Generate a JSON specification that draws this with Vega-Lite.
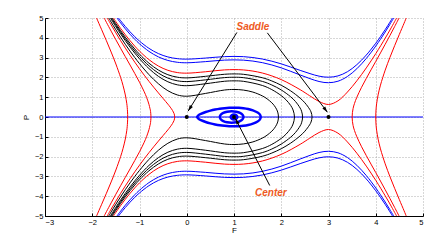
{
"$schema": "https://vega.github.io/schema/vega-lite/v6.json",
"width": 378, "height": 198,
"autosize": "none",
"padding": {"left": 45, "top": 18, "right": 23, "bottom": 28},
"background": "white",
"config": {
 "view": {"stroke": null},
 "axis": {"domainColor": "#000", "domainWidth": 1, "tickColor": "#000", "tickSize": -3, "tickWidth": 1,
  "labelFont": "Liberation Sans", "labelFontSize": 7.5, "labelColor": "#000", "labelOverlap": false,
  "titleFont": "Liberation Sans", "titleFontSize": 8, "titleFontWeight": "normal", "titleColor": "#000",
  "gridColor": "#999999", "gridDash": [1, 2], "gridWidth": 0.8, "gridOpacity": 1}
},
"datasets": {
"curves": [
{"c":"B1u","k":"b","i":1,"F":-1.445,"P":5},{"c":"B1u","k":"b","i":2,"F":-1.4,"P":4.864},{"c":"B1u","k":"b","i":3,"F":-1.3,"P":4.571},{"c":"B1u","k":"b","i":4,"F":-1.2,"P":4.301},{"c":"B1u","k":"b","i":5,"F":-1.1,"P":4.056},{"c":"B1u","k":"b","i":6,"F":-1.0,"P":3.835},{"c":"B1u","k":"b","i":7,"F":-0.8,"P":3.468},{"c":"B1u","k":"b","i":8,"F":-0.6,"P":3.203},{"c":"B1u","k":"b","i":9,"F":-0.4,"P":3.034},{"c":"B1u","k":"b","i":10,"F":-0.2,"P":2.947},{"c":"B1u","k":"b","i":11,"F":0,"P":2.922},{"c":"B1u","k":"b","i":12,"F":0.4,"P":2.977},{"c":"B1u","k":"b","i":13,"F":0.8,"P":3.049},{"c":"B1u","k":"b","i":14,"F":1.2,"P":3.048},{"c":"B1u","k":"b","i":15,"F":1.6,"P":2.928},{"c":"B1u","k":"b","i":16,"F":2.0,"P":2.684},{"c":"B1u","k":"b","i":17,"F":2.4,"P":2.355},{"c":"B1u","k":"b","i":18,"F":2.8,"P":2.063},{"c":"B1u","k":"b","i":19,"F":3.0,"P":2.01},{"c":"B1u","k":"b","i":20,"F":3.2,"P":2.075},{"c":"B1u","k":"b","i":21,"F":3.4,"P":2.286},{"c":"B1u","k":"b","i":22,"F":3.6,"P":2.643},{"c":"B1u","k":"b","i":23,"F":3.8,"P":3.129},{"c":"B1u","k":"b","i":24,"F":4.0,"P":3.725},{"c":"B1u","k":"b","i":25,"F":4.1,"P":4.058},{"c":"B1u","k":"b","i":26,"F":4.2,"P":4.413},{"c":"B1u","k":"b","i":27,"F":4.3,"P":4.789},{"c":"B1u","k":"b","i":28,"F":4.354,"P":5},
{"c":"B1l","k":"b","i":1,"F":-1.445,"P":-5},{"c":"B1l","k":"b","i":2,"F":-1.4,"P":-4.864},{"c":"B1l","k":"b","i":3,"F":-1.3,"P":-4.571},{"c":"B1l","k":"b","i":4,"F":-1.2,"P":-4.301},{"c":"B1l","k":"b","i":5,"F":-1.1,"P":-4.056},{"c":"B1l","k":"b","i":6,"F":-1.0,"P":-3.835},{"c":"B1l","k":"b","i":7,"F":-0.8,"P":-3.468},{"c":"B1l","k":"b","i":8,"F":-0.6,"P":-3.203},{"c":"B1l","k":"b","i":9,"F":-0.4,"P":-3.034},{"c":"B1l","k":"b","i":10,"F":-0.2,"P":-2.947},{"c":"B1l","k":"b","i":11,"F":0,"P":-2.922},{"c":"B1l","k":"b","i":12,"F":0.4,"P":-2.977},{"c":"B1l","k":"b","i":13,"F":0.8,"P":-3.049},{"c":"B1l","k":"b","i":14,"F":1.2,"P":-3.048},{"c":"B1l","k":"b","i":15,"F":1.6,"P":-2.928},{"c":"B1l","k":"b","i":16,"F":2.0,"P":-2.684},{"c":"B1l","k":"b","i":17,"F":2.4,"P":-2.355},{"c":"B1l","k":"b","i":18,"F":2.8,"P":-2.063},{"c":"B1l","k":"b","i":19,"F":3.0,"P":-2.01},{"c":"B1l","k":"b","i":20,"F":3.2,"P":-2.075},{"c":"B1l","k":"b","i":21,"F":3.4,"P":-2.286},{"c":"B1l","k":"b","i":22,"F":3.6,"P":-2.643},{"c":"B1l","k":"b","i":23,"F":3.8,"P":-3.129},{"c":"B1l","k":"b","i":24,"F":4.0,"P":-3.725},{"c":"B1l","k":"b","i":25,"F":4.1,"P":-4.058},{"c":"B1l","k":"b","i":26,"F":4.2,"P":-4.413},{"c":"B1l","k":"b","i":27,"F":4.3,"P":-4.789},{"c":"B1l","k":"b","i":28,"F":4.354,"P":-5},
{"c":"B2u","k":"b","i":1,"F":-1.476,"P":5},{"c":"B2u","k":"b","i":2,"F":-1.4,"P":4.756},{"c":"B2u","k":"b","i":3,"F":-1.3,"P":4.456},{"c":"B2u","k":"b","i":4,"F":-1.2,"P":4.179},{"c":"B2u","k":"b","i":5,"F":-1.1,"P":3.926},{"c":"B2u","k":"b","i":6,"F":-1.0,"P":3.697},{"c":"B2u","k":"b","i":7,"F":-0.8,"P":3.315},{"c":"B2u","k":"b","i":8,"F":-0.6,"P":3.036},{"c":"B2u","k":"b","i":9,"F":-0.4,"P":2.857},{"c":"B2u","k":"b","i":10,"F":-0.2,"P":2.764},{"c":"B2u","k":"b","i":11,"F":0,"P":2.739},{"c":"B2u","k":"b","i":12,"F":0.4,"P":2.797},{"c":"B2u","k":"b","i":13,"F":0.8,"P":2.874},{"c":"B2u","k":"b","i":14,"F":1.2,"P":2.872},{"c":"B2u","k":"b","i":15,"F":1.6,"P":2.745},{"c":"B2u","k":"b","i":16,"F":2.0,"P":2.483},{"c":"B2u","k":"b","i":17,"F":2.4,"P":2.122},{"c":"B2u","k":"b","i":18,"F":2.8,"P":1.793},{"c":"B2u","k":"b","i":19,"F":3.0,"P":1.732},{"c":"B2u","k":"b","i":20,"F":3.2,"P":1.807},{"c":"B2u","k":"b","i":21,"F":3.4,"P":2.046},{"c":"B2u","k":"b","i":22,"F":3.6,"P":2.438},{"c":"B2u","k":"b","i":23,"F":3.8,"P":2.958},{"c":"B2u","k":"b","i":24,"F":4.0,"P":3.582},{"c":"B2u","k":"b","i":25,"F":4.1,"P":3.928},{"c":"B2u","k":"b","i":26,"F":4.2,"P":4.294},{"c":"B2u","k":"b","i":27,"F":4.3,"P":4.679},{"c":"B2u","k":"b","i":28,"F":4.38,"P":5},
{"c":"B2l","k":"b","i":1,"F":-1.476,"P":-5},{"c":"B2l","k":"b","i":2,"F":-1.4,"P":-4.756},{"c":"B2l","k":"b","i":3,"F":-1.3,"P":-4.456},{"c":"B2l","k":"b","i":4,"F":-1.2,"P":-4.179},{"c":"B2l","k":"b","i":5,"F":-1.1,"P":-3.926},{"c":"B2l","k":"b","i":6,"F":-1.0,"P":-3.697},{"c":"B2l","k":"b","i":7,"F":-0.8,"P":-3.315},{"c":"B2l","k":"b","i":8,"F":-0.6,"P":-3.036},{"c":"B2l","k":"b","i":9,"F":-0.4,"P":-2.857},{"c":"B2l","k":"b","i":10,"F":-0.2,"P":-2.764},{"c":"B2l","k":"b","i":11,"F":0,"P":-2.739},{"c":"B2l","k":"b","i":12,"F":0.4,"P":-2.797},{"c":"B2l","k":"b","i":13,"F":0.8,"P":-2.874},{"c":"B2l","k":"b","i":14,"F":1.2,"P":-2.872},{"c":"B2l","k":"b","i":15,"F":1.6,"P":-2.745},{"c":"B2l","k":"b","i":16,"F":2.0,"P":-2.483},{"c":"B2l","k":"b","i":17,"F":2.4,"P":-2.122},{"c":"B2l","k":"b","i":18,"F":2.8,"P":-1.793},{"c":"B2l","k":"b","i":19,"F":3.0,"P":-1.732},{"c":"B2l","k":"b","i":20,"F":3.2,"P":-1.807},{"c":"B2l","k":"b","i":21,"F":3.4,"P":-2.046},{"c":"B2l","k":"b","i":22,"F":3.6,"P":-2.438},{"c":"B2l","k":"b","i":23,"F":3.8,"P":-2.958},{"c":"B2l","k":"b","i":24,"F":4.0,"P":-3.582},{"c":"B2l","k":"b","i":25,"F":4.1,"P":-3.928},{"c":"B2l","k":"b","i":26,"F":4.2,"P":-4.294},{"c":"B2l","k":"b","i":27,"F":4.3,"P":-4.679},{"c":"B2l","k":"b","i":28,"F":4.38,"P":-5},
{"c":"R0u","k":"r","i":1,"F":-1.552,"P":5},{"c":"R0u","k":"r","i":2,"F":-1.5,"P":4.815},{"c":"R0u","k":"r","i":3,"F":-1.4,"P":4.474},{"c":"R0u","k":"r","i":4,"F":-1.3,"P":4.154},{"c":"R0u","k":"r","i":5,"F":-1.2,"P":3.855},{"c":"R0u","k":"r","i":6,"F":-1.1,"P":3.579},{"c":"R0u","k":"r","i":7,"F":-1.0,"P":3.327},{"c":"R0u","k":"r","i":8,"F":-0.8,"P":2.897},{"c":"R0u","k":"r","i":9,"F":-0.6,"P":2.573},{"c":"R0u","k":"r","i":10,"F":-0.4,"P":2.359},{"c":"R0u","k":"r","i":11,"F":-0.2,"P":2.245},{"c":"R0u","k":"r","i":12,"F":0,"P":2.214},{"c":"R0u","k":"r","i":13,"F":0.4,"P":2.285},{"c":"R0u","k":"r","i":14,"F":0.8,"P":2.379},{"c":"R0u","k":"r","i":15,"F":1.2,"P":2.377},{"c":"R0u","k":"r","i":16,"F":1.6,"P":2.221},{"c":"R0u","k":"r","i":17,"F":2.0,"P":1.888},{"c":"R0u","k":"r","i":18,"F":2.4,"P":1.38},{"c":"R0u","k":"r","i":19,"F":2.6,"P":1.076},{"c":"R0u","k":"r","i":20,"F":2.8,"P":0.784},{"c":"R0u","k":"r","i":21,"F":3.0,"P":0.632},{"c":"R0u","k":"r","i":22,"F":3.2,"P":0.816},{"c":"R0u","k":"r","i":23,"F":3.4,"P":1.259},{"c":"R0u","k":"r","i":24,"F":3.6,"P":1.829},{"c":"R0u","k":"r","i":25,"F":3.8,"P":2.48},{"c":"R0u","k":"r","i":26,"F":4.0,"P":3.199},{"c":"R0u","k":"r","i":27,"F":4.2,"P":3.979},{"c":"R0u","k":"r","i":28,"F":4.3,"P":4.392},{"c":"R0u","k":"r","i":29,"F":4.4,"P":4.819},{"c":"R0u","k":"r","i":30,"F":4.441,"P":5},
{"c":"R0l","k":"r","i":1,"F":-1.552,"P":-5},{"c":"R0l","k":"r","i":2,"F":-1.5,"P":-4.815},{"c":"R0l","k":"r","i":3,"F":-1.4,"P":-4.474},{"c":"R0l","k":"r","i":4,"F":-1.3,"P":-4.154},{"c":"R0l","k":"r","i":5,"F":-1.2,"P":-3.855},{"c":"R0l","k":"r","i":6,"F":-1.1,"P":-3.579},{"c":"R0l","k":"r","i":7,"F":-1.0,"P":-3.327},{"c":"R0l","k":"r","i":8,"F":-0.8,"P":-2.897},{"c":"R0l","k":"r","i":9,"F":-0.6,"P":-2.573},{"c":"R0l","k":"r","i":10,"F":-0.4,"P":-2.359},{"c":"R0l","k":"r","i":11,"F":-0.2,"P":-2.245},{"c":"R0l","k":"r","i":12,"F":0,"P":-2.214},{"c":"R0l","k":"r","i":13,"F":0.4,"P":-2.285},{"c":"R0l","k":"r","i":14,"F":0.8,"P":-2.379},{"c":"R0l","k":"r","i":15,"F":1.2,"P":-2.377},{"c":"R0l","k":"r","i":16,"F":1.6,"P":-2.221},{"c":"R0l","k":"r","i":17,"F":2.0,"P":-1.888},{"c":"R0l","k":"r","i":18,"F":2.4,"P":-1.38},{"c":"R0l","k":"r","i":19,"F":2.6,"P":-1.076},{"c":"R0l","k":"r","i":20,"F":2.8,"P":-0.784},{"c":"R0l","k":"r","i":21,"F":3.0,"P":-0.632},{"c":"R0l","k":"r","i":22,"F":3.2,"P":-0.816},{"c":"R0l","k":"r","i":23,"F":3.4,"P":-1.259},{"c":"R0l","k":"r","i":24,"F":3.6,"P":-1.829},{"c":"R0l","k":"r","i":25,"F":3.8,"P":-2.48},{"c":"R0l","k":"r","i":26,"F":4.0,"P":-3.199},{"c":"R0l","k":"r","i":27,"F":4.2,"P":-3.979},{"c":"R0l","k":"r","i":28,"F":4.3,"P":-4.392},{"c":"R0l","k":"r","i":29,"F":4.4,"P":-4.819},{"c":"R0l","k":"r","i":30,"F":4.441,"P":-5},
{"c":"K1","k":"k","i":1,"F":-1.651,"P":5},{"c":"K1","k":"k","i":2,"F":-1.6,"P":4.794},{"c":"K1","k":"k","i":3,"F":-1.5,"P":4.403},{"c":"K1","k":"k","i":4,"F":-1.4,"P":4.027},{"c":"K1","k":"k","i":5,"F":-1.3,"P":3.668},{"c":"K1","k":"k","i":6,"F":-1.2,"P":3.326},{"c":"K1","k":"k","i":7,"F":-1.1,"P":3.002},{"c":"K1","k":"k","i":8,"F":-1.0,"P":2.696},{"c":"K1","k":"k","i":9,"F":-0.8,"P":2.142},{"c":"K1","k":"k","i":10,"F":-0.6,"P":1.679},{"c":"K1","k":"k","i":11,"F":-0.4,"P":1.328},{"c":"K1","k":"k","i":12,"F":-0.2,"P":1.114},{"c":"K1","k":"k","i":13,"F":0,"P":1.049},{"c":"K1","k":"k","i":14,"F":0.4,"P":1.192},{"c":"K1","k":"k","i":15,"F":0.8,"P":1.363},{"c":"K1","k":"k","i":16,"F":1.0,"P":1.391},{"c":"K1","k":"k","i":17,"F":1.2,"P":1.359},{"c":"K1","k":"k","i":18,"F":1.4,"P":1.258},{"c":"K1","k":"k","i":19,"F":1.6,"P":1.065},{"c":"K1","k":"k","i":20,"F":1.7,"P":0.919},{"c":"K1","k":"k","i":21,"F":1.8,"P":0.718},{"c":"K1","k":"k","i":22,"F":1.85,"P":0.583},{"c":"K1","k":"k","i":23,"F":1.9,"P":0.395},{"c":"K1","k":"k","i":24,"F":1.93,"P":0.205},{"c":"K1","k":"k","i":25,"F":1.94,"P":0},{"c":"K1","k":"k","i":26,"F":1.93,"P":-0.205},{"c":"K1","k":"k","i":27,"F":1.9,"P":-0.395},{"c":"K1","k":"k","i":28,"F":1.85,"P":-0.583},{"c":"K1","k":"k","i":29,"F":1.8,"P":-0.718},{"c":"K1","k":"k","i":30,"F":1.7,"P":-0.919},{"c":"K1","k":"k","i":31,"F":1.6,"P":-1.065},{"c":"K1","k":"k","i":32,"F":1.4,"P":-1.258},{"c":"K1","k":"k","i":33,"F":1.2,"P":-1.359},{"c":"K1","k":"k","i":34,"F":1.0,"P":-1.391},{"c":"K1","k":"k","i":35,"F":0.8,"P":-1.363},{"c":"K1","k":"k","i":36,"F":0.4,"P":-1.192},{"c":"K1","k":"k","i":37,"F":0,"P":-1.049},{"c":"K1","k":"k","i":38,"F":-0.2,"P":-1.114},{"c":"K1","k":"k","i":39,"F":-0.4,"P":-1.328},{"c":"K1","k":"k","i":40,"F":-0.6,"P":-1.679},{"c":"K1","k":"k","i":41,"F":-0.8,"P":-2.142},{"c":"K1","k":"k","i":42,"F":-1.0,"P":-2.696},{"c":"K1","k":"k","i":43,"F":-1.1,"P":-3.002},{"c":"K1","k":"k","i":44,"F":-1.2,"P":-3.326},{"c":"K1","k":"k","i":45,"F":-1.3,"P":-3.668},{"c":"K1","k":"k","i":46,"F":-1.4,"P":-4.027},{"c":"K1","k":"k","i":47,"F":-1.5,"P":-4.403},{"c":"K1","k":"k","i":48,"F":-1.6,"P":-4.794},{"c":"K1","k":"k","i":49,"F":-1.651,"P":-5},
{"c":"K2","k":"k","i":1,"F":-1.616,"P":5},{"c":"K2","k":"k","i":2,"F":-1.5,"P":4.559},{"c":"K2","k":"k","i":3,"F":-1.4,"P":4.197},{"c":"K2","k":"k","i":4,"F":-1.3,"P":3.854},{"c":"K2","k":"k","i":5,"F":-1.2,"P":3.53},{"c":"K2","k":"k","i":6,"F":-1.1,"P":3.227},{"c":"K2","k":"k","i":7,"F":-1.0,"P":2.944},{"c":"K2","k":"k","i":8,"F":-0.8,"P":2.447},{"c":"K2","k":"k","i":9,"F":-0.6,"P":2.054},{"c":"K2","k":"k","i":10,"F":-0.4,"P":1.779},{"c":"K2","k":"k","i":11,"F":-0.2,"P":1.625},{"c":"K2","k":"k","i":12,"F":0,"P":1.581},{"c":"K2","k":"k","i":13,"F":0.4,"P":1.68},{"c":"K2","k":"k","i":14,"F":0.8,"P":1.805},{"c":"K2","k":"k","i":15,"F":1.0,"P":1.826},{"c":"K2","k":"k","i":16,"F":1.2,"P":1.802},{"c":"K2","k":"k","i":17,"F":1.6,"P":1.592},{"c":"K2","k":"k","i":18,"F":1.8,"P":1.384},{"c":"K2","k":"k","i":19,"F":2.0,"P":1.08},{"c":"K2","k":"k","i":20,"F":2.1,"P":0.871},{"c":"K2","k":"k","i":21,"F":2.2,"P":0.581},{"c":"K2","k":"k","i":22,"F":2.25,"P":0.355},{"c":"K2","k":"k","i":23,"F":2.28,"P":0},{"c":"K2","k":"k","i":24,"F":2.25,"P":-0.355},{"c":"K2","k":"k","i":25,"F":2.2,"P":-0.581},{"c":"K2","k":"k","i":26,"F":2.1,"P":-0.871},{"c":"K2","k":"k","i":27,"F":2.0,"P":-1.08},{"c":"K2","k":"k","i":28,"F":1.8,"P":-1.384},{"c":"K2","k":"k","i":29,"F":1.6,"P":-1.592},{"c":"K2","k":"k","i":30,"F":1.2,"P":-1.802},{"c":"K2","k":"k","i":31,"F":1.0,"P":-1.826},{"c":"K2","k":"k","i":32,"F":0.8,"P":-1.805},{"c":"K2","k":"k","i":33,"F":0.4,"P":-1.68},{"c":"K2","k":"k","i":34,"F":0,"P":-1.581},{"c":"K2","k":"k","i":35,"F":-0.2,"P":-1.625},{"c":"K2","k":"k","i":36,"F":-0.4,"P":-1.779},{"c":"K2","k":"k","i":37,"F":-0.6,"P":-2.054},{"c":"K2","k":"k","i":38,"F":-0.8,"P":-2.447},{"c":"K2","k":"k","i":39,"F":-1.0,"P":-2.944},{"c":"K2","k":"k","i":40,"F":-1.1,"P":-3.227},{"c":"K2","k":"k","i":41,"F":-1.2,"P":-3.53},{"c":"K2","k":"k","i":42,"F":-1.3,"P":-3.854},{"c":"K2","k":"k","i":43,"F":-1.4,"P":-4.197},{"c":"K2","k":"k","i":44,"F":-1.5,"P":-4.559},{"c":"K2","k":"k","i":45,"F":-1.616,"P":-5},
{"c":"K3","k":"k","i":1,"F":-1.598,"P":5},{"c":"K3","k":"k","i":2,"F":-1.5,"P":4.635},{"c":"K3","k":"k","i":3,"F":-1.4,"P":4.28},{"c":"K3","k":"k","i":4,"F":-1.3,"P":3.944},{"c":"K3","k":"k","i":5,"F":-1.2,"P":3.628},{"c":"K3","k":"k","i":6,"F":-1.1,"P":3.333},{"c":"K3","k":"k","i":7,"F":-1.0,"P":3.06},{"c":"K3","k":"k","i":8,"F":-0.8,"P":2.587},{"c":"K3","k":"k","i":9,"F":-0.6,"P":2.218},{"c":"K3","k":"k","i":10,"F":-0.4,"P":1.966},{"c":"K3","k":"k","i":11,"F":-0.2,"P":1.828},{"c":"K3","k":"k","i":12,"F":0,"P":1.789},{"c":"K3","k":"k","i":13,"F":0.4,"P":1.877},{"c":"K3","k":"k","i":14,"F":0.8,"P":1.989},{"c":"K3","k":"k","i":15,"F":1.0,"P":2.008},{"c":"K3","k":"k","i":16,"F":1.2,"P":1.987},{"c":"K3","k":"k","i":17,"F":1.6,"P":1.798},{"c":"K3","k":"k","i":18,"F":1.8,"P":1.617},{"c":"K3","k":"k","i":19,"F":2.0,"P":1.366},{"c":"K3","k":"k","i":20,"F":2.2,"P":1.019},{"c":"K3","k":"k","i":21,"F":2.3,"P":0.785},{"c":"K3","k":"k","i":22,"F":2.4,"P":0.452},{"c":"K3","k":"k","i":23,"F":2.43,"P":0.293},{"c":"K3","k":"k","i":24,"F":2.452,"P":0},{"c":"K3","k":"k","i":25,"F":2.43,"P":-0.293},{"c":"K3","k":"k","i":26,"F":2.4,"P":-0.452},{"c":"K3","k":"k","i":27,"F":2.3,"P":-0.785},{"c":"K3","k":"k","i":28,"F":2.2,"P":-1.019},{"c":"K3","k":"k","i":29,"F":2.0,"P":-1.366},{"c":"K3","k":"k","i":30,"F":1.8,"P":-1.617},{"c":"K3","k":"k","i":31,"F":1.6,"P":-1.798},{"c":"K3","k":"k","i":32,"F":1.2,"P":-1.987},{"c":"K3","k":"k","i":33,"F":1.0,"P":-2.008},{"c":"K3","k":"k","i":34,"F":0.8,"P":-1.989},{"c":"K3","k":"k","i":35,"F":0.4,"P":-1.877},{"c":"K3","k":"k","i":36,"F":0,"P":-1.789},{"c":"K3","k":"k","i":37,"F":-0.2,"P":-1.828},{"c":"K3","k":"k","i":38,"F":-0.4,"P":-1.966},{"c":"K3","k":"k","i":39,"F":-0.6,"P":-2.218},{"c":"K3","k":"k","i":40,"F":-0.8,"P":-2.587},{"c":"K3","k":"k","i":41,"F":-1.0,"P":-3.06},{"c":"K3","k":"k","i":42,"F":-1.1,"P":-3.333},{"c":"K3","k":"k","i":43,"F":-1.2,"P":-3.628},{"c":"K3","k":"k","i":44,"F":-1.3,"P":-3.944},{"c":"K3","k":"k","i":45,"F":-1.4,"P":-4.28},{"c":"K3","k":"k","i":46,"F":-1.5,"P":-4.635},{"c":"K3","k":"k","i":47,"F":-1.598,"P":-5},
{"c":"K4","k":"k","i":1,"F":-1.579,"P":5},{"c":"K4","k":"k","i":2,"F":-1.5,"P":4.71},{"c":"K4","k":"k","i":3,"F":-1.4,"P":4.361},{"c":"K4","k":"k","i":4,"F":-1.3,"P":4.032},{"c":"K4","k":"k","i":5,"F":-1.2,"P":3.723},{"c":"K4","k":"k","i":6,"F":-1.1,"P":3.437},{"c":"K4","k":"k","i":7,"F":-1.0,"P":3.173},{"c":"K4","k":"k","i":8,"F":-0.8,"P":2.718},{"c":"K4","k":"k","i":9,"F":-0.6,"P":2.371},{"c":"K4","k":"k","i":10,"F":-0.4,"P":2.136},{"c":"K4","k":"k","i":11,"F":-0.2,"P":2.01},{"c":"K4","k":"k","i":12,"F":0,"P":1.975},{"c":"K4","k":"k","i":13,"F":0.4,"P":2.055},{"c":"K4","k":"k","i":14,"F":0.8,"P":2.158},{"c":"K4","k":"k","i":15,"F":1.0,"P":2.176},{"c":"K4","k":"k","i":16,"F":1.2,"P":2.156},{"c":"K4","k":"k","i":17,"F":1.6,"P":1.983},{"c":"K4","k":"k","i":18,"F":1.8,"P":1.821},{"c":"K4","k":"k","i":19,"F":2.0,"P":1.602},{"c":"K4","k":"k","i":20,"F":2.2,"P":1.318},{"c":"K4","k":"k","i":21,"F":2.4,"P":0.951},{"c":"K4","k":"k","i":22,"F":2.5,"P":0.717},{"c":"K4","k":"k","i":23,"F":2.6,"P":0.397},{"c":"K4","k":"k","i":24,"F":2.63,"P":0.257},{"c":"K4","k":"k","i":25,"F":2.652,"P":0},{"c":"K4","k":"k","i":26,"F":2.63,"P":-0.257},{"c":"K4","k":"k","i":27,"F":2.6,"P":-0.397},{"c":"K4","k":"k","i":28,"F":2.5,"P":-0.717},{"c":"K4","k":"k","i":29,"F":2.4,"P":-0.951},{"c":"K4","k":"k","i":30,"F":2.2,"P":-1.318},{"c":"K4","k":"k","i":31,"F":2.0,"P":-1.602},{"c":"K4","k":"k","i":32,"F":1.8,"P":-1.821},{"c":"K4","k":"k","i":33,"F":1.6,"P":-1.983},{"c":"K4","k":"k","i":34,"F":1.2,"P":-2.156},{"c":"K4","k":"k","i":35,"F":1.0,"P":-2.176},{"c":"K4","k":"k","i":36,"F":0.8,"P":-2.158},{"c":"K4","k":"k","i":37,"F":0.4,"P":-2.055},{"c":"K4","k":"k","i":38,"F":0,"P":-1.975},{"c":"K4","k":"k","i":39,"F":-0.2,"P":-2.01},{"c":"K4","k":"k","i":40,"F":-0.4,"P":-2.136},{"c":"K4","k":"k","i":41,"F":-0.6,"P":-2.371},{"c":"K4","k":"k","i":42,"F":-0.8,"P":-2.718},{"c":"K4","k":"k","i":43,"F":-1.0,"P":-3.173},{"c":"K4","k":"k","i":44,"F":-1.1,"P":-3.437},{"c":"K4","k":"k","i":45,"F":-1.2,"P":-3.723},{"c":"K4","k":"k","i":46,"F":-1.3,"P":-4.032},{"c":"K4","k":"k","i":47,"F":-1.4,"P":-4.361},{"c":"K4","k":"k","i":48,"F":-1.5,"P":-4.71},{"c":"K4","k":"k","i":49,"F":-1.579,"P":-5},
{"c":"RL1","k":"r","i":1,"F":-1.909,"P":5},{"c":"RL1","k":"r","i":2,"F":-1.9,"P":4.951},{"c":"RL1","k":"r","i":3,"F":-1.8,"P":4.405},{"c":"RL1","k":"r","i":4,"F":-1.7,"P":3.851},{"c":"RL1","k":"r","i":5,"F":-1.6,"P":3.28},{"c":"RL1","k":"r","i":6,"F":-1.5,"P":2.676},{"c":"RL1","k":"r","i":7,"F":-1.4,"P":2.0},{"c":"RL1","k":"r","i":8,"F":-1.35,"P":1.603},{"c":"RL1","k":"r","i":9,"F":-1.3,"P":1.112},{"c":"RL1","k":"r","i":10,"F":-1.27,"P":0.693},{"c":"RL1","k":"r","i":11,"F":-1.26,"P":0.489},{"c":"RL1","k":"r","i":12,"F":-1.25,"P":0},{"c":"RL1","k":"r","i":13,"F":-1.26,"P":-0.489},{"c":"RL1","k":"r","i":14,"F":-1.27,"P":-0.693},{"c":"RL1","k":"r","i":15,"F":-1.3,"P":-1.112},{"c":"RL1","k":"r","i":16,"F":-1.35,"P":-1.603},{"c":"RL1","k":"r","i":17,"F":-1.4,"P":-2.0},{"c":"RL1","k":"r","i":18,"F":-1.5,"P":-2.676},{"c":"RL1","k":"r","i":19,"F":-1.6,"P":-3.28},{"c":"RL1","k":"r","i":20,"F":-1.7,"P":-3.851},{"c":"RL1","k":"r","i":21,"F":-1.8,"P":-4.405},{"c":"RL1","k":"r","i":22,"F":-1.9,"P":-4.951},{"c":"RL1","k":"r","i":23,"F":-1.909,"P":-5},
{"c":"RL2","k":"r","i":1,"F":-1.748,"P":5},{"c":"RL2","k":"r","i":2,"F":-1.7,"P":4.782},{"c":"RL2","k":"r","i":3,"F":-1.6,"P":4.336},{"c":"RL2","k":"r","i":4,"F":-1.5,"P":3.899},{"c":"RL2","k":"r","i":5,"F":-1.4,"P":3.47},{"c":"RL2","k":"r","i":6,"F":-1.3,"P":3.046},{"c":"RL2","k":"r","i":7,"F":-1.2,"P":2.624},{"c":"RL2","k":"r","i":8,"F":-1.1,"P":2.198},{"c":"RL2","k":"r","i":9,"F":-1.0,"P":1.757},{"c":"RL2","k":"r","i":10,"F":-0.9,"P":1.274},{"c":"RL2","k":"r","i":11,"F":-0.85,"P":0.993},{"c":"RL2","k":"r","i":12,"F":-0.8,"P":0.64},{"c":"RL2","k":"r","i":13,"F":-0.78,"P":0.443},{"c":"RL2","k":"r","i":14,"F":-0.77,"P":0.347},{"c":"RL2","k":"r","i":15,"F":-0.758,"P":0},{"c":"RL2","k":"r","i":16,"F":-0.77,"P":-0.347},{"c":"RL2","k":"r","i":17,"F":-0.78,"P":-0.443},{"c":"RL2","k":"r","i":18,"F":-0.8,"P":-0.64},{"c":"RL2","k":"r","i":19,"F":-0.85,"P":-0.993},{"c":"RL2","k":"r","i":20,"F":-0.9,"P":-1.274},{"c":"RL2","k":"r","i":21,"F":-1.0,"P":-1.757},{"c":"RL2","k":"r","i":22,"F":-1.1,"P":-2.198},{"c":"RL2","k":"r","i":23,"F":-1.2,"P":-2.624},{"c":"RL2","k":"r","i":24,"F":-1.3,"P":-3.046},{"c":"RL2","k":"r","i":25,"F":-1.4,"P":-3.47},{"c":"RL2","k":"r","i":26,"F":-1.5,"P":-3.899},{"c":"RL2","k":"r","i":27,"F":-1.6,"P":-4.336},{"c":"RL2","k":"r","i":28,"F":-1.7,"P":-4.782},{"c":"RL2","k":"r","i":29,"F":-1.748,"P":-5},
{"c":"RL3","k":"r","i":1,"F":-1.683,"P":5},{"c":"RL3","k":"r","i":2,"F":-1.6,"P":4.652},{"c":"RL3","k":"r","i":3,"F":-1.5,"P":4.248},{"c":"RL3","k":"r","i":4,"F":-1.4,"P":3.857},{"c":"RL3","k":"r","i":5,"F":-1.3,"P":3.481},{"c":"RL3","k":"r","i":6,"F":-1.2,"P":3.118},{"c":"RL3","k":"r","i":7,"F":-1.1,"P":2.77},{"c":"RL3","k":"r","i":8,"F":-1.0,"P":2.434},{"c":"RL3","k":"r","i":9,"F":-0.9,"P":2.112},{"c":"RL3","k":"r","i":10,"F":-0.8,"P":1.803},{"c":"RL3","k":"r","i":11,"F":-0.7,"P":1.505},{"c":"RL3","k":"r","i":12,"F":-0.6,"P":1.217},{"c":"RL3","k":"r","i":13,"F":-0.5,"P":0.935},{"c":"RL3","k":"r","i":14,"F":-0.4,"P":0.651},{"c":"RL3","k":"r","i":15,"F":-0.35,"P":0.499},{"c":"RL3","k":"r","i":16,"F":-0.3,"P":0.326},{"c":"RL3","k":"r","i":17,"F":-0.27,"P":0.184},{"c":"RL3","k":"r","i":18,"F":-0.255,"P":0},{"c":"RL3","k":"r","i":19,"F":-0.27,"P":-0.184},{"c":"RL3","k":"r","i":20,"F":-0.3,"P":-0.326},{"c":"RL3","k":"r","i":21,"F":-0.35,"P":-0.499},{"c":"RL3","k":"r","i":22,"F":-0.4,"P":-0.651},{"c":"RL3","k":"r","i":23,"F":-0.5,"P":-0.935},{"c":"RL3","k":"r","i":24,"F":-0.6,"P":-1.217},{"c":"RL3","k":"r","i":25,"F":-0.7,"P":-1.505},{"c":"RL3","k":"r","i":26,"F":-0.8,"P":-1.803},{"c":"RL3","k":"r","i":27,"F":-0.9,"P":-2.112},{"c":"RL3","k":"r","i":28,"F":-1.0,"P":-2.434},{"c":"RL3","k":"r","i":29,"F":-1.1,"P":-2.77},{"c":"RL3","k":"r","i":30,"F":-1.2,"P":-3.118},{"c":"RL3","k":"r","i":31,"F":-1.3,"P":-3.481},{"c":"RL3","k":"r","i":32,"F":-1.4,"P":-3.857},{"c":"RL3","k":"r","i":33,"F":-1.5,"P":-4.248},{"c":"RL3","k":"r","i":34,"F":-1.6,"P":-4.652},{"c":"RL3","k":"r","i":35,"F":-1.683,"P":-5},
{"c":"RR1","k":"r","i":1,"F":4.493,"P":5},{"c":"RR1","k":"r","i":2,"F":4.4,"P":4.569},{"c":"RR1","k":"r","i":3,"F":4.3,"P":4.116},{"c":"RR1","k":"r","i":4,"F":4.2,"P":3.673},{"c":"RR1","k":"r","i":5,"F":4.1,"P":3.237},{"c":"RR1","k":"r","i":6,"F":4.0,"P":2.808},{"c":"RR1","k":"r","i":7,"F":3.9,"P":2.381},{"c":"RR1","k":"r","i":8,"F":3.8,"P":1.95},{"c":"RR1","k":"r","i":9,"F":3.7,"P":1.502},{"c":"RR1","k":"r","i":10,"F":3.6,"P":0.998},{"c":"RR1","k":"r","i":11,"F":3.55,"P":0.684},{"c":"RR1","k":"r","i":12,"F":3.52,"P":0.424},{"c":"RR1","k":"r","i":13,"F":3.5,"P":0},{"c":"RR1","k":"r","i":14,"F":3.52,"P":-0.424},{"c":"RR1","k":"r","i":15,"F":3.55,"P":-0.684},{"c":"RR1","k":"r","i":16,"F":3.6,"P":-0.998},{"c":"RR1","k":"r","i":17,"F":3.7,"P":-1.502},{"c":"RR1","k":"r","i":18,"F":3.8,"P":-1.95},{"c":"RR1","k":"r","i":19,"F":3.9,"P":-2.381},{"c":"RR1","k":"r","i":20,"F":4.0,"P":-2.808},{"c":"RR1","k":"r","i":21,"F":4.1,"P":-3.237},{"c":"RR1","k":"r","i":22,"F":4.2,"P":-3.673},{"c":"RR1","k":"r","i":23,"F":4.3,"P":-4.116},{"c":"RR1","k":"r","i":24,"F":4.4,"P":-4.569},{"c":"RR1","k":"r","i":25,"F":4.493,"P":-5},
{"c":"RR2","k":"r","i":1,"F":4.645,"P":5},{"c":"RR2","k":"r","i":2,"F":4.6,"P":4.739},{"c":"RR2","k":"r","i":3,"F":4.5,"P":4.177},{"c":"RR2","k":"r","i":4,"F":4.4,"P":3.604},{"c":"RR2","k":"r","i":5,"F":4.3,"P":3.01},{"c":"RR2","k":"r","i":6,"F":4.2,"P":2.367},{"c":"RR2","k":"r","i":7,"F":4.1,"P":1.611},{"c":"RR2","k":"r","i":8,"F":4.05,"P":1.117},{"c":"RR2","k":"r","i":9,"F":4.02,"P":0.697},{"c":"RR2","k":"r","i":10,"F":4.007,"P":0.41},{"c":"RR2","k":"r","i":11,"F":4.0,"P":0},{"c":"RR2","k":"r","i":12,"F":4.007,"P":-0.41},{"c":"RR2","k":"r","i":13,"F":4.02,"P":-0.697},{"c":"RR2","k":"r","i":14,"F":4.05,"P":-1.117},{"c":"RR2","k":"r","i":15,"F":4.1,"P":-1.611},{"c":"RR2","k":"r","i":16,"F":4.2,"P":-2.367},{"c":"RR2","k":"r","i":17,"F":4.3,"P":-3.01},{"c":"RR2","k":"r","i":18,"F":4.4,"P":-3.604},{"c":"RR2","k":"r","i":19,"F":4.5,"P":-4.177},{"c":"RR2","k":"r","i":20,"F":4.6,"P":-4.739},{"c":"RR2","k":"r","i":21,"F":4.645,"P":-5}
],
"rings": [
{"c":"O","i":1,"F":0.22,"P":0},{"c":"O","i":2,"F":0.25,"P":0.094},{"c":"O","i":3,"F":0.3,"P":0.16},{"c":"O","i":4,"F":0.4,"P":0.25},{"c":"O","i":5,"F":0.5,"P":0.32},{"c":"O","i":6,"F":0.6,"P":0.375},{"c":"O","i":7,"F":0.7,"P":0.418},{"c":"O","i":8,"F":0.8,"P":0.447},{"c":"O","i":9,"F":0.9,"P":0.466},{"c":"O","i":10,"F":1.0,"P":0.473},{"c":"O","i":11,"F":1.1,"P":0.466},{"c":"O","i":12,"F":1.2,"P":0.444},{"c":"O","i":13,"F":1.3,"P":0.404},{"c":"O","i":14,"F":1.4,"P":0.337},{"c":"O","i":15,"F":1.5,"P":0.225},{"c":"O","i":16,"F":1.55,"P":0.118},{"c":"O","i":17,"F":1.565,"P":0},{"c":"O","i":18,"F":1.55,"P":-0.118},{"c":"O","i":19,"F":1.5,"P":-0.225},{"c":"O","i":20,"F":1.4,"P":-0.337},{"c":"O","i":21,"F":1.3,"P":-0.404},{"c":"O","i":22,"F":1.2,"P":-0.444},{"c":"O","i":23,"F":1.1,"P":-0.466},{"c":"O","i":24,"F":1.0,"P":-0.473},{"c":"O","i":25,"F":0.9,"P":-0.466},{"c":"O","i":26,"F":0.8,"P":-0.447},{"c":"O","i":27,"F":0.7,"P":-0.418},{"c":"O","i":28,"F":0.6,"P":-0.375},{"c":"O","i":29,"F":0.5,"P":-0.32},{"c":"O","i":30,"F":0.4,"P":-0.25},{"c":"O","i":31,"F":0.3,"P":-0.16},{"c":"O","i":32,"F":0.25,"P":-0.094},
{"c":"M","i":1,"F":1.2,"P":0},{"c":"M","i":2,"F":1.181,"P":0.111},{"c":"M","i":3,"F":1.127,"P":0.205},{"c":"M","i":4,"F":1.046,"P":0.268},{"c":"M","i":5,"F":0.95,"P":0.29},{"c":"M","i":6,"F":0.854,"P":0.268},{"c":"M","i":7,"F":0.773,"P":0.205},{"c":"M","i":8,"F":0.719,"P":0.111},{"c":"M","i":9,"F":0.7,"P":0},{"c":"M","i":10,"F":0.719,"P":-0.111},{"c":"M","i":11,"F":0.773,"P":-0.205},{"c":"M","i":12,"F":0.854,"P":-0.268},{"c":"M","i":13,"F":0.95,"P":-0.29},{"c":"M","i":14,"F":1.046,"P":-0.268},{"c":"M","i":15,"F":1.127,"P":-0.205},{"c":"M","i":16,"F":1.181,"P":-0.111},
{"c":"I","i":1,"F":1.07,"P":0},{"c":"I","i":2,"F":1.049,"P":0.085},{"c":"I","i":3,"F":1.0,"P":0.12},{"c":"I","i":4,"F":0.951,"P":0.085},{"c":"I","i":5,"F":0.93,"P":0},{"c":"I","i":6,"F":0.951,"P":-0.085},{"c":"I","i":7,"F":1.0,"P":-0.12},{"c":"I","i":8,"F":1.049,"P":-0.085}
]
},
"layer": [
 {
  "data": {"values": [{"F": -3, "P": 0}]},
  "mark": {"type": "rule", "color": "#0000ff", "strokeWidth": 1},
  "encoding": {
   "y": {"field": "P", "type": "quantitative", "scale": {"domain": [-5, 5], "nice": false},
     "axis": {"values": [-5,-4,-3,-2,-1,0,1,2,3,4,5], "title": "P", "grid": true, "labelPadding": 5, "titlePadding": 4, "labelOverlap": false, "labelBound": false, "tickCount": 11}},
   "x": {"datum": -3, "type": "quantitative", "scale": {"domain": [-3, 5], "nice": false, "zero": false},
     "axis": {"values": [-3,-2,-1,0,1,2,3,4,5], "title": "F", "grid": true, "labelPadding": 5, "titlePadding": 1, "labelOverlap": false}},
   "x2": {"datum": 5}
  }
 },
 {
  "data": {"name": "curves"},
  "mark": {"type": "line", "interpolate": "catmull-rom", "strokeWidth": 1, "clip": true},
  "encoding": {
   "x": {"field": "F", "type": "quantitative"},
   "y": {"field": "P", "type": "quantitative"},
   "color": {"field": "k", "type": "nominal", "scale": {"domain": ["b", "r", "k"], "range": ["#0000ff", "#ff0000", "#000000"]}, "legend": null},
   "detail": {"field": "c"},
   "order": {"field": "i", "type": "quantitative"}
  }
 },
 {
  "data": {"name": "rings"},
  "mark": {"type": "line", "interpolate": "cardinal-closed", "strokeWidth": 2.5, "color": "#0000ff"},
  "encoding": {
   "x": {"field": "F", "type": "quantitative"},
   "y": {"field": "P", "type": "quantitative"},
   "detail": {"field": "c"},
   "order": {"field": "i", "type": "quantitative"}
  }
 },
 {
  "data": {"values": [{"F": 0, "P": 0}, {"F": 1, "P": 0}, {"F": 3, "P": 0}]},
  "mark": {"type": "point", "filled": true, "color": "#000000", "size": 16, "opacity": 1},
  "encoding": {"x": {"field": "F", "type": "quantitative"}, "y": {"field": "P", "type": "quantitative"}}
 },
 {
  "data": {"values": [{"F": 1.061, "P": 4.27, "F2": 0.03, "P2": 0.3}, {"F": 1.706, "P": 4.25, "F2": 2.977, "P2": 0.24}, {"F": 1.756, "P": -3.46, "F2": 1.03, "P2": -0.08}]},
  "mark": {"type": "rule", "color": "#000000", "strokeWidth": 1},
  "encoding": {"x": {"field": "F", "type": "quantitative"}, "y": {"field": "P", "type": "quantitative"}, "x2": {"field": "F2"}, "y2": {"field": "P2"}}
 },
 {
  "data": {"values": [{"F": 0.03, "P": 0.3}]},
  "mark": {"type": "point", "shape": "M0,0L-0.45,1.5L0.45,1.5Z", "filled": true, "color": "#000000", "size": 64, "opacity": 1, "angle": 211.8},
  "encoding": {"x": {"field": "F", "type": "quantitative"}, "y": {"field": "P", "type": "quantitative"}}
 },
 {
  "data": {"values": [{"F": 2.977, "P": 0.24}]},
  "mark": {"type": "point", "shape": "M0,0L-0.45,1.5L0.45,1.5Z", "filled": true, "color": "#000000", "size": 64, "opacity": 1, "angle": 142.9},
  "encoding": {"x": {"field": "F", "type": "quantitative"}, "y": {"field": "P", "type": "quantitative"}}
 },
 {
  "data": {"values": [{"F": 1.03, "P": -0.08}]},
  "mark": {"type": "point", "shape": "M0,0L-0.45,1.5L0.45,1.5Z", "filled": true, "color": "#000000", "size": 64, "opacity": 1, "angle": 332.5},
  "encoding": {"x": {"field": "F", "type": "quantitative"}, "y": {"field": "P", "type": "quantitative"}}
 },
 {
  "data": {"values": [{"F": 1.40, "P": 4.55, "t": "Saddle"}, {"F": 1.78, "P": -3.85, "t": "Center"}]},
  "mark": {"type": "text", "font": "Liberation Sans", "fontSize": 10, "fontStyle": "italic", "fontWeight": "bold", "color": "#ee5a24", "baseline": "middle", "align": "center"},
  "encoding": {"x": {"field": "F", "type": "quantitative"}, "y": {"field": "P", "type": "quantitative"}, "text": {"field": "t"}}
 }
]
}
